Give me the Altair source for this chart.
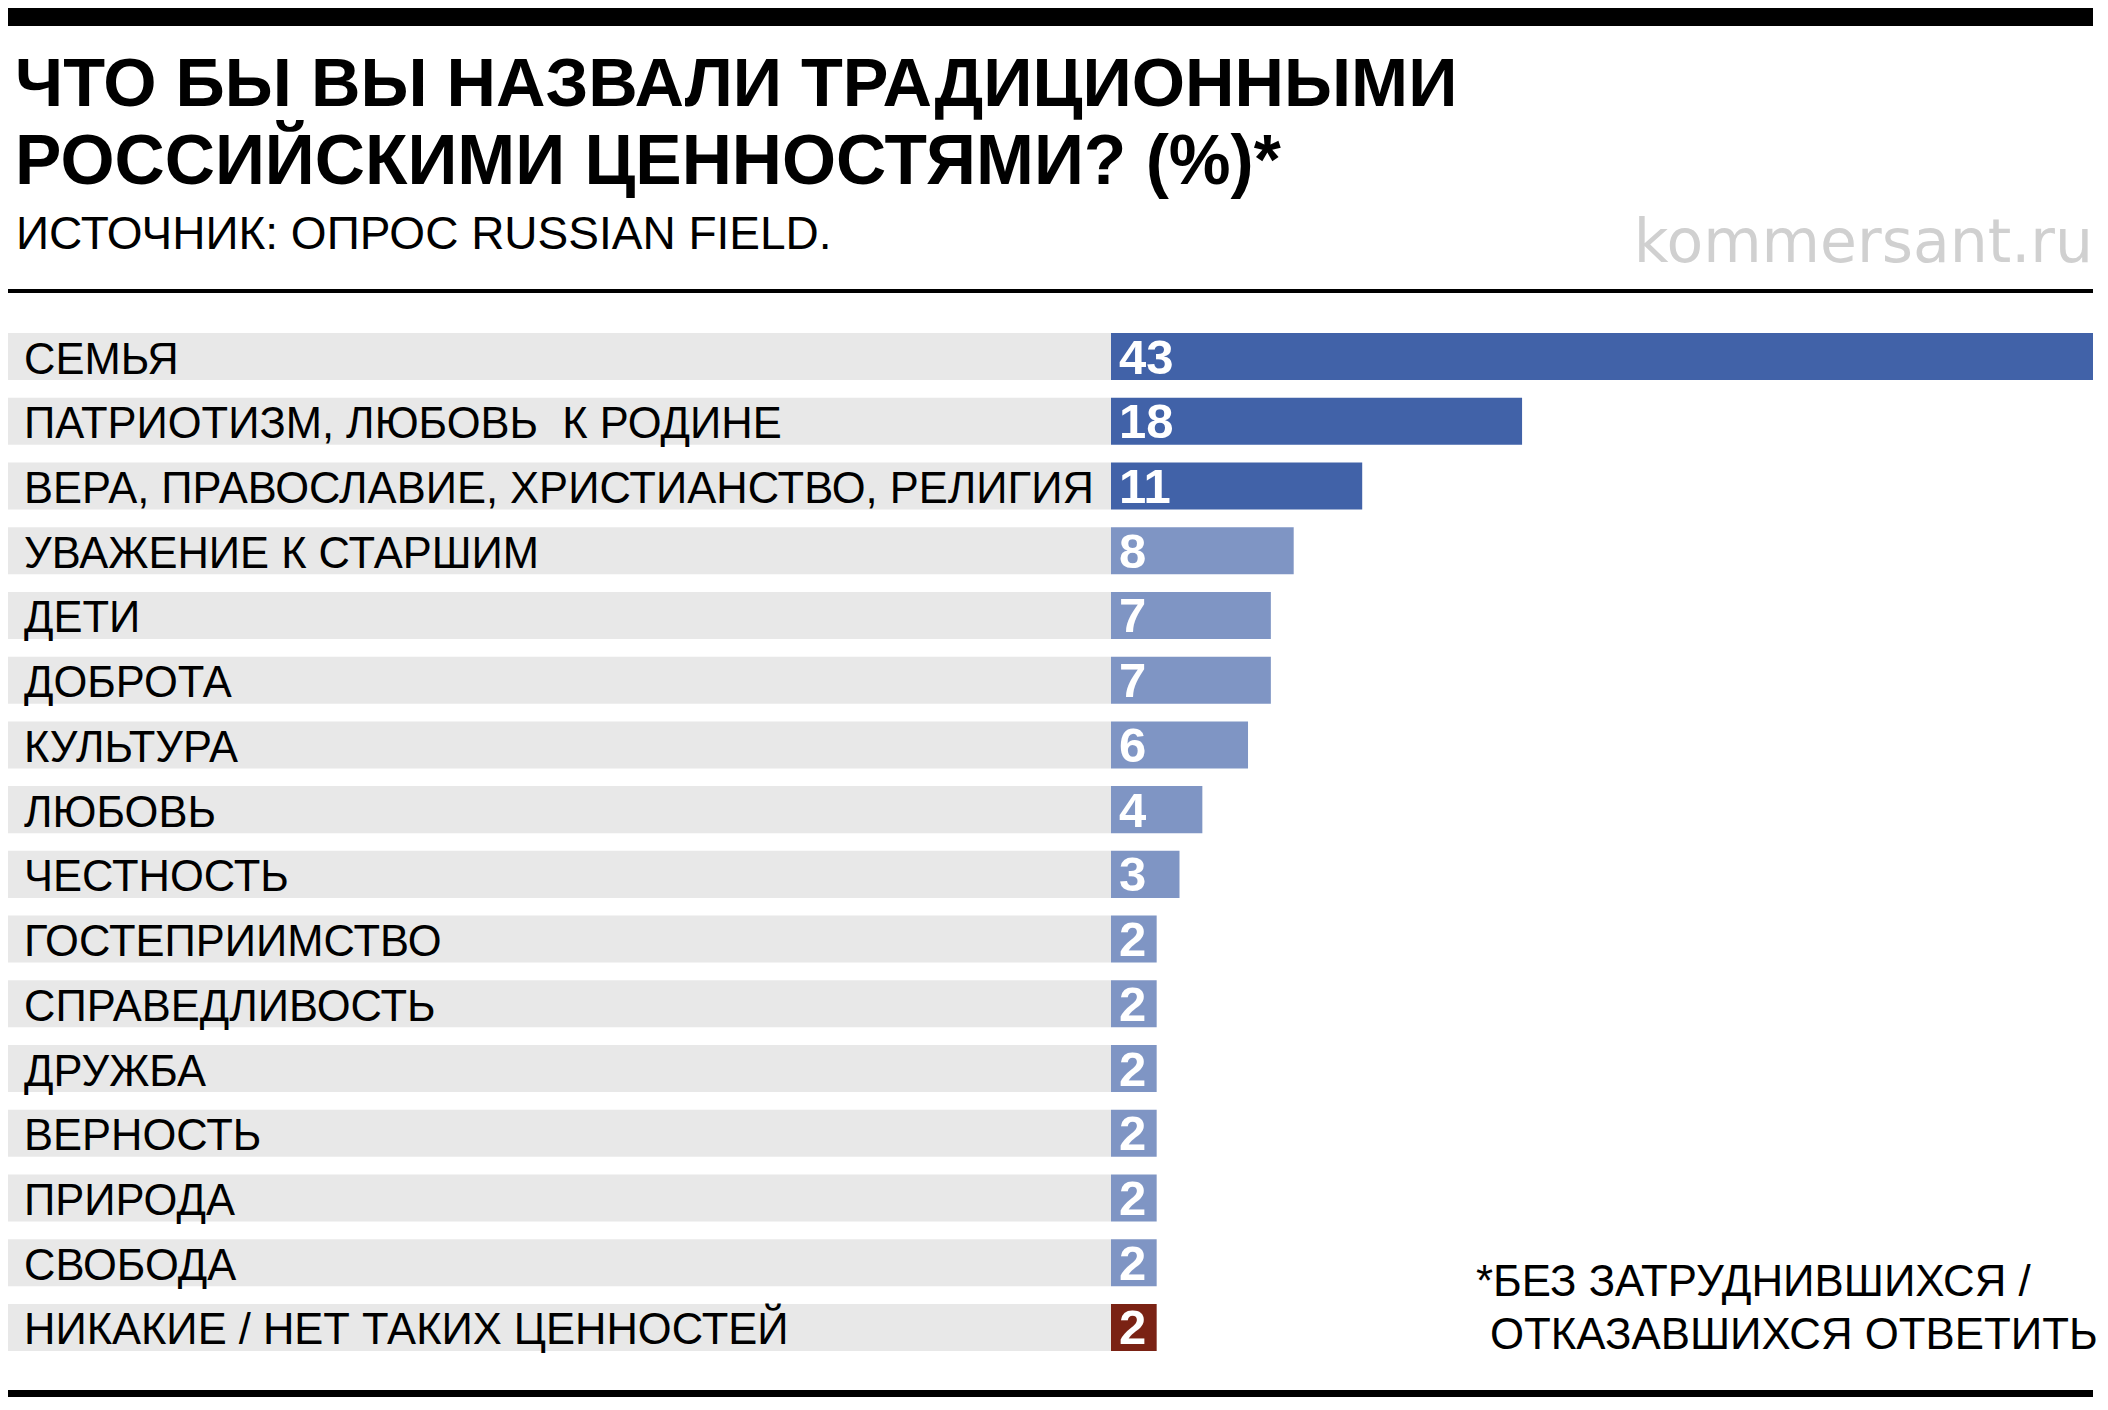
import altair as alt
import pandas as pd

# ---- data ----
categories = [
    "СЕМЬЯ",
    "ПАТРИОТИЗМ, ЛЮБОВЬ\u00a0 К РОДИНЕ",
    "ВЕРА, ПРАВОСЛАВИЕ, ХРИСТИАНСТВО, РЕЛИГИЯ",
    "УВАЖЕНИЕ К СТАРШИМ",
    "ДЕТИ",
    "ДОБРОТА",
    "КУЛЬТУРА",
    "ЛЮБОВЬ",
    "ЧЕСТНОСТЬ",
    "ГОСТЕПРИИМСТВО",
    "СПРАВЕДЛИВОСТЬ",
    "ДРУЖБА",
    "ВЕРНОСТЬ",
    "ПРИРОДА",
    "СВОБОДА",
    "НИКАКИЕ / НЕТ ТАКИХ ЦЕННОСТЕЙ",
]
values = [43, 18, 11, 8, 7, 7, 6, 4, 3, 2, 2, 2, 2, 2, 2, 2]
tones = ["top"] * 3 + ["other"] * 12 + ["none"]

title_lines = ["ЧТО БЫ ВЫ НАЗВАЛИ ТРАДИЦИОННЫМИ", "РОССИЙСКИМИ ЦЕННОСТЯМИ? (%)*"]
subtitle = "ИСТОЧНИК: ОПРОС RUSSIAN FIELD."
watermark = "kommersant.ru"
footnote_lines = ["*БЕЗ ЗАТРУДНИВШИХСЯ /", "ОТКАЗАВШИХСЯ ОТВЕТИТЬ"]

tone_domain = ["top", "other", "none"]
tone_colors = ["#4162A8", "#7F95C4", "#7A2214"]

W, H = 2092, 1394
FONT = "Liberation Sans"

df = pd.DataFrame({"category": categories, "value": values, "tone": tones})

yenc = alt.Y(
    "category:N",
    sort=categories,
    scale=alt.Scale(range=[325, 1343], paddingInner=0.273, paddingOuter=0),
    axis=None,
)
xscale = alt.Scale(domain=[0, 43], range=[1103, 2085])

base = alt.Chart(df)

bg = base.mark_bar(color="#E8E8E8").encode(
    y=yenc, x=alt.value(0), x2=alt.value(1103)
)

bars = base.mark_bar().encode(
    y=yenc,
    x=alt.X("value:Q", scale=xscale, axis=None),
    color=alt.Color("tone:N", scale=alt.Scale(domain=tone_domain, range=tone_colors), legend=None),
)

labels = base.mark_text(
    align="left", baseline="alphabetic", dy=17, font=FONT, fontSize=43.5, color="#000000"
).encode(y=yenc, x=alt.value(16), text="category:N")

vals = base.transform_calculate(zero="0").mark_text(
    align="left", baseline="alphabetic", dx=8, dy=17, font=FONT, fontSize=49,
    fontWeight="bold", color="#FFFFFF"
).encode(y=yenc, x=alt.X("zero:Q", scale=xscale, axis=None), text="value:Q")


def text_layer(txt, x, y, size, weight="normal", color="#000000", align="left", font=FONT):
    return alt.Chart(pd.DataFrame({"t": [txt]})).mark_text(
        align=align, baseline="alphabetic", font=font, fontSize=size,
        fontWeight=weight, color=color
    ).encode(text="t:N", x=alt.value(x), y=alt.value(y))


def hline(y, thickness):
    return alt.Chart(pd.DataFrame({"a": [0]})).mark_rule(
        color="#000000", strokeWidth=thickness
    ).encode(x=alt.value(0), x2=alt.value(2085), y=alt.value(y))


top_bar = alt.Chart(pd.DataFrame({"a": [0]})).mark_rect(color="#000000").encode(
    x=alt.value(0), x2=alt.value(2085), y=alt.value(0), y2=alt.value(18)
)

layers = [
    top_bar,
    text_layer(title_lines[0], 7, 98, 68.5, weight="bold"),
    text_layer(title_lines[1], 7, 176, 69.5, weight="bold"),
    text_layer(subtitle, 8, 241, 46),
    text_layer(watermark, 2085, 254, 60, color="#D0D0D0", align="right", font="DejaVu Sans"),
    hline(283, 4),
    bg,
    bars,
    labels,
    vals,
    text_layer(footnote_lines[0], 1468, 1288, 43.8),
    text_layer(footnote_lines[1], 1482, 1341, 43.8),
    hline(1385.5, 7),
]

chart = alt.layer(*layers).properties(
    width=W, height=H, autosize=alt.AutoSizeParams(type="none"), padding=0,
    background="#FFFFFF"
).configure_view(stroke=None)

chart.save("out.html", embed_options={"renderer": "svg", "actions": False})
